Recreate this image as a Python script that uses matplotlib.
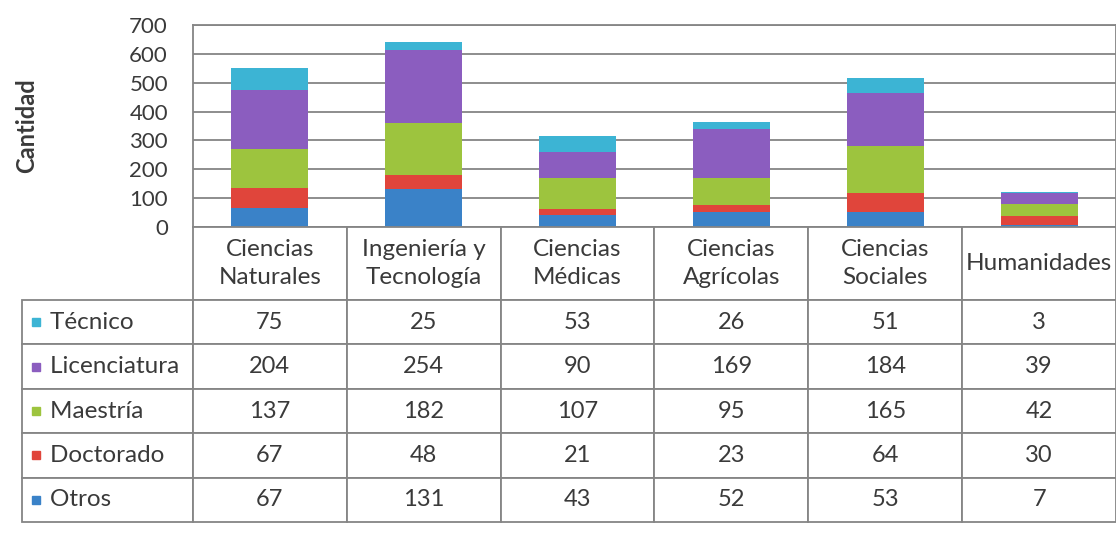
import matplotlib.pyplot as plt
import numpy as np
from matplotlib.patches import Rectangle

plt.rcParams['font.family'] = ['Lato', 'DejaVu Sans']

# data
categorias = ['Ciencias\nNaturales', 'Ingeniería y\nTecnología', 'Ciencias\nMédicas',
              'Ciencias\nAgrícolas', 'Ciencias\nSociales', 'Humanidades']
otros = [67, 131, 43, 52, 53, 7]
doctorado = [67, 48, 21, 23, 64, 30]
maestria = [137, 182, 107, 95, 165, 42]
licenciatura = [204, 254, 90, 169, 184, 39]
tecnico = [75, 25, 53, 26, 51, 3]

series = [('Otros', otros, '#3a82c8'),
          ('Doctorado', doctorado, '#e0453b'),
          ('Maestría', maestria, '#9dc43e'),
          ('Licenciatura', licenciatura, '#8b5dbf'),
          ('Técnico', tecnico, '#3cb4d4')]

W, H = 1116, 541
fig = plt.figure(figsize=(W / 100, H / 100), dpi=100)
txt = '#3a3a3a'

# chart area
ax = fig.add_axes([193 / W, 1 - 227 / H, (W - 193) / W, (227 - 25) / H])
x = np.arange(len(categorias))
bottom = np.zeros(len(categorias))
for name, vals, col in series:
    ax.bar(x, vals, 0.5, bottom=bottom, color=col, zorder=3)
    bottom += np.array(vals)

ax.set_xlim(-0.5, len(categorias) - 0.5)
ax.set_ylim(0, 700)
ax.set_yticks(np.arange(0, 701, 100))
ax.set_xticks([])
ax.tick_params(axis='y', length=0, labelsize=16, colors=txt, pad=18)
ax.grid(axis='y', color='#858585', linewidth=1.3, zorder=0)
for s in ax.spines.values():
    s.set_color('#858585')
    s.set_linewidth(1.3)
ax.set_ylabel('Cantidad', fontsize=17, fontweight='bold', color=txt)
ax.yaxis.set_label_coords(-0.168, 0.5)

# data table below
tax = fig.add_axes([22 / W, 1 - 522 / H, (W - 22) / W, (522 - 227) / H])
tax.set_axis_off()
filas = [[''] + categorias]
for name, vals, col in reversed(series):
    filas.append(['    ' + name] + [str(v) for v in vals])
tb = tax.table(cellText=filas, cellLoc='center', bbox=[0, 0, 1, 1])
tb.auto_set_font_size(False)
lab_w, col_w = 171, 154
head_h, row_h = 73, 44.4
for (r, c), cell in tb.get_celld().items():
    cell.set_width(lab_w if c == 0 else col_w)
    cell.set_height(head_h if r == 0 else row_h)
    cell.set_edgecolor('#858585')
    cell.set_linewidth(1.3)
    t = cell.get_text()
    t.set_fontsize(17 if (r > 0 and c > 0) else 17.5)
    t.set_color(txt)
    t.set_linespacing(1.4)
    if c == 0:
        t.set_horizontalalignment('left')
        cell._loc = 'left'
        cell.PAD = 0.02
    if r == 0 and c == 0:
        cell.visible_edges = ''

# legend keys in the label column
total_h = head_h + 5 * row_h
tot_w = W - 22
for i, (name, vals, col) in enumerate(reversed(series)):
    yc = 1 - (head_h + (i + 0.5) * row_h) / total_h
    tax.add_patch(Rectangle((10 / tot_w, yc - 4 / total_h), 8 / tot_w, 8 / total_h,
                            transform=tax.transAxes, color=col, zorder=5))

fig.savefig('out.png', dpi=100)
